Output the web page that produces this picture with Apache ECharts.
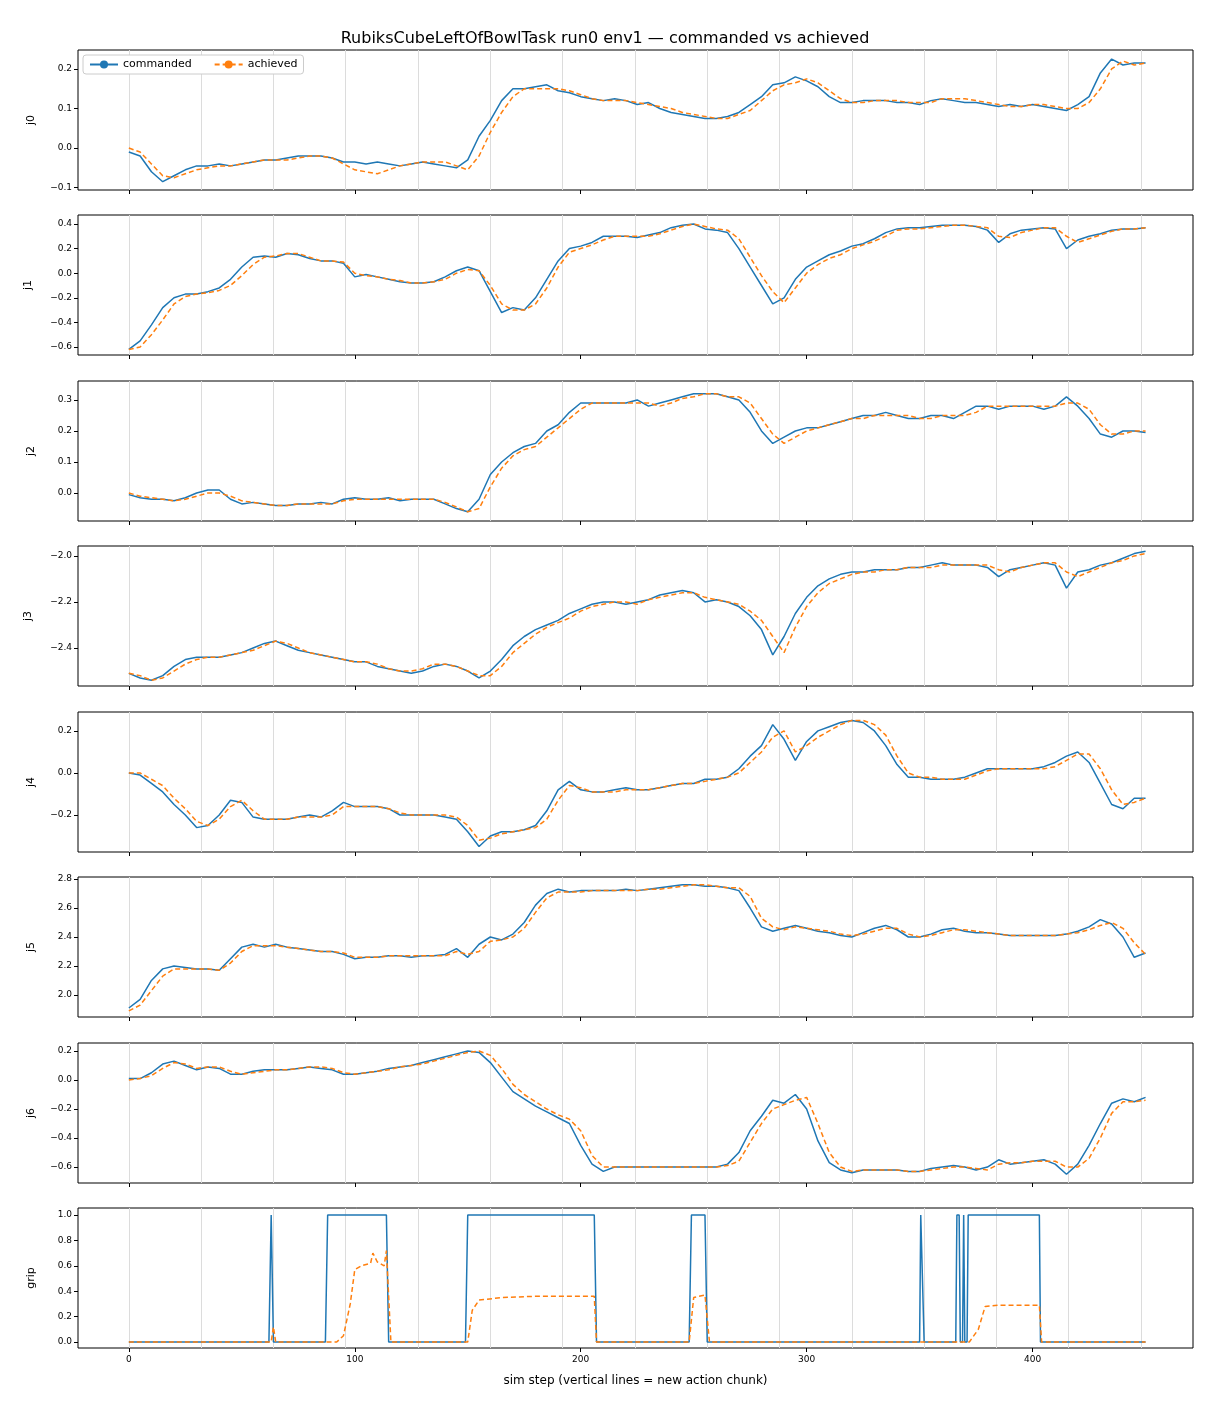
<!DOCTYPE html>
<html><head><meta charset="utf-8">
<script src="https://cdn.jsdelivr.net/npm/echarts@6/dist/echarts.min.js"></script>
<style>html,body{margin:0;padding:0;background:#fff}#c{width:1210px;height:1408px}</style>
</head><body><div id="c"></div>
<script>
const steps = Array.from({length:91},(_,i)=>i*5);
const chunkStarts = [0,32,64,96,128,160,192,224,256,288,320,352,384,416,448];
const j0_cmd=[-0.01,-0.02,-0.06,-0.085,-0.07,-0.055,-0.045,-0.045,-0.04,-0.045,-0.04,-0.035,-0.03,-0.03,-0.025,-0.02,-0.02,-0.02,-0.025,-0.035,-0.035,-0.04,-0.035,-0.04,-0.045,-0.04,-0.035,-0.04,-0.045,-0.05,-0.03,0.03,0.07,0.12,0.15,0.15,0.155,0.16,0.145,0.14,0.13,0.125,0.12,0.125,0.12,0.11,0.115,0.1,0.09,0.085,0.08,0.075,0.075,0.08,0.09,0.11,0.13,0.16,0.165,0.18,0.17,0.155,0.13,0.115,0.115,0.12,0.12,0.12,0.115,0.115,0.11,0.12,0.125,0.12,0.115,0.115,0.11,0.105,0.11,0.105,0.11,0.105,0.1,0.095,0.11,0.13,0.19,0.225,0.21,0.215,0.215];
const j0_ach=[0.0,-0.01,-0.04,-0.07,-0.075,-0.065,-0.055,-0.05,-0.045,-0.045,-0.04,-0.035,-0.03,-0.03,-0.03,-0.025,-0.02,-0.02,-0.025,-0.04,-0.055,-0.06,-0.065,-0.055,-0.045,-0.04,-0.035,-0.035,-0.035,-0.045,-0.055,-0.02,0.04,0.09,0.13,0.15,0.15,0.15,0.15,0.145,0.135,0.125,0.12,0.12,0.12,0.115,0.11,0.105,0.1,0.09,0.085,0.08,0.075,0.075,0.085,0.095,0.12,0.145,0.16,0.165,0.175,0.165,0.145,0.125,0.115,0.115,0.12,0.12,0.12,0.115,0.115,0.115,0.125,0.125,0.125,0.12,0.115,0.11,0.105,0.105,0.11,0.11,0.105,0.1,0.1,0.115,0.15,0.2,0.22,0.21,0.215];
const j1_cmd=[-0.62,-0.55,-0.42,-0.28,-0.2,-0.17,-0.17,-0.15,-0.12,-0.05,0.05,0.13,0.14,0.13,0.16,0.15,0.12,0.1,0.1,0.08,-0.03,-0.01,-0.03,-0.05,-0.07,-0.08,-0.08,-0.07,-0.03,0.02,0.05,0.02,-0.15,-0.32,-0.28,-0.3,-0.2,-0.05,0.1,0.2,0.22,0.25,0.3,0.3,0.3,0.29,0.31,0.33,0.37,0.39,0.4,0.36,0.35,0.33,0.2,0.05,-0.1,-0.25,-0.2,-0.05,0.05,0.1,0.15,0.18,0.22,0.24,0.28,0.33,0.36,0.37,0.37,0.38,0.39,0.39,0.39,0.38,0.35,0.25,0.32,0.35,0.36,0.37,0.36,0.2,0.27,0.3,0.32,0.35,0.36,0.36,0.37];
const j1_ach=[-0.62,-0.6,-0.5,-0.38,-0.25,-0.19,-0.17,-0.16,-0.14,-0.1,-0.02,0.07,0.13,0.14,0.16,0.16,0.13,0.1,0.1,0.09,0.0,-0.02,-0.03,-0.05,-0.06,-0.08,-0.08,-0.07,-0.05,0.0,0.03,0.02,-0.1,-0.25,-0.3,-0.3,-0.25,-0.12,0.05,0.17,0.2,0.23,0.27,0.3,0.3,0.3,0.3,0.32,0.35,0.38,0.4,0.38,0.36,0.35,0.28,0.13,-0.02,-0.15,-0.24,-0.12,0.0,0.07,0.12,0.15,0.2,0.23,0.26,0.3,0.35,0.36,0.36,0.37,0.38,0.39,0.39,0.38,0.37,0.3,0.29,0.33,0.35,0.37,0.37,0.3,0.25,0.28,0.31,0.34,0.36,0.36,0.37];
const j2_cmd=[-0.005,-0.015,-0.02,-0.02,-0.025,-0.015,0.0,0.01,0.01,-0.02,-0.035,-0.03,-0.035,-0.04,-0.04,-0.035,-0.035,-0.03,-0.035,-0.02,-0.015,-0.02,-0.02,-0.015,-0.025,-0.02,-0.02,-0.02,-0.035,-0.05,-0.06,-0.02,0.06,0.1,0.13,0.15,0.16,0.2,0.22,0.26,0.29,0.29,0.29,0.29,0.29,0.3,0.28,0.29,0.3,0.31,0.32,0.32,0.32,0.31,0.3,0.26,0.2,0.16,0.18,0.2,0.21,0.21,0.22,0.23,0.24,0.25,0.25,0.26,0.25,0.24,0.24,0.25,0.25,0.24,0.26,0.28,0.28,0.27,0.28,0.28,0.28,0.27,0.28,0.31,0.28,0.24,0.19,0.18,0.2,0.2,0.195];
const j2_ach=[0.0,-0.01,-0.015,-0.02,-0.025,-0.02,-0.01,0.0,0.0,-0.01,-0.025,-0.03,-0.035,-0.04,-0.04,-0.035,-0.035,-0.035,-0.035,-0.025,-0.02,-0.02,-0.02,-0.02,-0.02,-0.02,-0.02,-0.02,-0.03,-0.045,-0.06,-0.05,0.02,0.08,0.12,0.14,0.15,0.18,0.21,0.24,0.27,0.29,0.29,0.29,0.29,0.29,0.29,0.28,0.29,0.305,0.31,0.32,0.32,0.31,0.31,0.29,0.24,0.19,0.16,0.18,0.2,0.21,0.22,0.23,0.24,0.24,0.25,0.25,0.25,0.25,0.24,0.24,0.25,0.25,0.25,0.26,0.28,0.28,0.28,0.28,0.28,0.28,0.28,0.29,0.29,0.27,0.22,0.19,0.19,0.2,0.2];
const j3_cmd=[-2.51,-2.53,-2.54,-2.52,-2.48,-2.45,-2.44,-2.44,-2.44,-2.43,-2.42,-2.4,-2.38,-2.37,-2.39,-2.41,-2.42,-2.43,-2.44,-2.45,-2.46,-2.46,-2.48,-2.49,-2.5,-2.51,-2.5,-2.48,-2.47,-2.48,-2.5,-2.53,-2.5,-2.45,-2.39,-2.35,-2.32,-2.3,-2.28,-2.25,-2.23,-2.21,-2.2,-2.2,-2.21,-2.2,-2.19,-2.17,-2.16,-2.15,-2.16,-2.2,-2.19,-2.2,-2.22,-2.26,-2.32,-2.43,-2.35,-2.25,-2.18,-2.13,-2.1,-2.08,-2.07,-2.07,-2.06,-2.06,-2.06,-2.05,-2.05,-2.04,-2.03,-2.04,-2.04,-2.04,-2.05,-2.09,-2.06,-2.05,-2.04,-2.03,-2.04,-2.14,-2.07,-2.06,-2.04,-2.03,-2.01,-1.99,-1.98];
const j3_ach=[-2.51,-2.52,-2.54,-2.53,-2.5,-2.47,-2.45,-2.44,-2.44,-2.43,-2.42,-2.41,-2.39,-2.37,-2.38,-2.4,-2.42,-2.43,-2.44,-2.45,-2.46,-2.46,-2.47,-2.49,-2.5,-2.5,-2.49,-2.47,-2.47,-2.48,-2.5,-2.52,-2.52,-2.48,-2.42,-2.38,-2.34,-2.31,-2.29,-2.27,-2.24,-2.22,-2.21,-2.2,-2.2,-2.21,-2.19,-2.18,-2.17,-2.16,-2.16,-2.18,-2.19,-2.2,-2.21,-2.24,-2.28,-2.35,-2.42,-2.31,-2.22,-2.16,-2.12,-2.1,-2.08,-2.07,-2.07,-2.06,-2.06,-2.05,-2.05,-2.05,-2.04,-2.04,-2.04,-2.04,-2.04,-2.06,-2.07,-2.05,-2.04,-2.03,-2.03,-2.07,-2.09,-2.07,-2.05,-2.03,-2.02,-2.0,-1.99];
const j4_cmd=[0.0,-0.01,-0.05,-0.09,-0.15,-0.2,-0.26,-0.25,-0.2,-0.13,-0.14,-0.21,-0.22,-0.22,-0.22,-0.21,-0.2,-0.21,-0.18,-0.14,-0.16,-0.16,-0.16,-0.17,-0.2,-0.2,-0.2,-0.2,-0.21,-0.22,-0.28,-0.35,-0.3,-0.28,-0.28,-0.27,-0.25,-0.18,-0.08,-0.04,-0.08,-0.09,-0.09,-0.08,-0.07,-0.08,-0.08,-0.07,-0.06,-0.05,-0.05,-0.03,-0.03,-0.02,0.02,0.08,0.13,0.23,0.16,0.06,0.15,0.2,0.22,0.24,0.25,0.24,0.2,0.13,0.04,-0.02,-0.02,-0.03,-0.03,-0.03,-0.02,0.0,0.02,0.02,0.02,0.02,0.02,0.03,0.05,0.08,0.1,0.05,-0.05,-0.15,-0.17,-0.12,-0.12];
const j4_ach=[0.0,0.0,-0.03,-0.06,-0.12,-0.17,-0.23,-0.25,-0.22,-0.16,-0.13,-0.18,-0.22,-0.22,-0.22,-0.21,-0.21,-0.21,-0.2,-0.16,-0.16,-0.16,-0.16,-0.17,-0.19,-0.2,-0.2,-0.2,-0.2,-0.21,-0.25,-0.32,-0.31,-0.29,-0.28,-0.27,-0.26,-0.22,-0.13,-0.06,-0.07,-0.09,-0.09,-0.09,-0.08,-0.08,-0.08,-0.07,-0.06,-0.05,-0.05,-0.04,-0.03,-0.02,0.0,0.05,0.1,0.17,0.2,0.1,0.13,0.17,0.2,0.23,0.25,0.25,0.23,0.18,0.08,0.0,-0.02,-0.02,-0.03,-0.03,-0.03,-0.01,0.01,0.02,0.02,0.02,0.02,0.02,0.03,0.06,0.09,0.09,0.02,-0.08,-0.15,-0.14,-0.12];
const j5_cmd=[1.91,1.97,2.1,2.18,2.2,2.19,2.18,2.18,2.17,2.25,2.33,2.35,2.33,2.35,2.33,2.32,2.31,2.3,2.3,2.28,2.25,2.26,2.26,2.27,2.27,2.26,2.27,2.27,2.28,2.32,2.26,2.35,2.4,2.38,2.42,2.5,2.62,2.7,2.73,2.71,2.72,2.72,2.72,2.72,2.73,2.72,2.73,2.74,2.75,2.76,2.76,2.75,2.75,2.74,2.72,2.6,2.47,2.44,2.46,2.48,2.46,2.44,2.43,2.41,2.4,2.43,2.46,2.48,2.45,2.4,2.4,2.42,2.45,2.46,2.44,2.43,2.43,2.42,2.41,2.41,2.41,2.41,2.41,2.42,2.44,2.47,2.52,2.49,2.4,2.26,2.29];
const j5_ach=[1.89,1.93,2.03,2.13,2.18,2.18,2.18,2.18,2.17,2.22,2.3,2.34,2.34,2.34,2.33,2.32,2.31,2.3,2.3,2.29,2.26,2.26,2.26,2.27,2.27,2.27,2.27,2.27,2.27,2.3,2.28,2.3,2.37,2.38,2.4,2.46,2.57,2.67,2.71,2.71,2.71,2.72,2.72,2.72,2.72,2.72,2.73,2.73,2.74,2.75,2.76,2.76,2.75,2.74,2.74,2.68,2.53,2.47,2.45,2.47,2.46,2.45,2.44,2.42,2.41,2.42,2.44,2.46,2.46,2.42,2.4,2.41,2.43,2.45,2.45,2.44,2.43,2.42,2.41,2.41,2.41,2.41,2.41,2.42,2.43,2.45,2.48,2.5,2.46,2.36,2.28];
const j6_cmd=[0.01,0.01,0.05,0.11,0.13,0.1,0.07,0.09,0.08,0.04,0.04,0.06,0.07,0.07,0.07,0.08,0.09,0.08,0.07,0.04,0.04,0.05,0.06,0.08,0.09,0.1,0.12,0.14,0.16,0.18,0.2,0.19,0.12,0.02,-0.08,-0.13,-0.18,-0.22,-0.26,-0.3,-0.45,-0.58,-0.63,-0.6,-0.6,-0.6,-0.6,-0.6,-0.6,-0.6,-0.6,-0.6,-0.6,-0.58,-0.5,-0.35,-0.25,-0.14,-0.16,-0.1,-0.2,-0.42,-0.57,-0.62,-0.64,-0.62,-0.62,-0.62,-0.62,-0.63,-0.63,-0.61,-0.6,-0.59,-0.6,-0.62,-0.6,-0.55,-0.58,-0.57,-0.56,-0.55,-0.58,-0.65,-0.58,-0.45,-0.3,-0.16,-0.13,-0.15,-0.12];
const j6_ach=[0.0,0.01,0.03,0.08,0.12,0.11,0.08,0.09,0.09,0.06,0.04,0.05,0.06,0.07,0.07,0.08,0.09,0.09,0.08,0.05,0.04,0.05,0.06,0.07,0.09,0.1,0.11,0.13,0.15,0.17,0.19,0.2,0.17,0.08,-0.03,-0.1,-0.15,-0.2,-0.24,-0.27,-0.35,-0.52,-0.6,-0.6,-0.6,-0.6,-0.6,-0.6,-0.6,-0.6,-0.6,-0.6,-0.6,-0.59,-0.56,-0.43,-0.3,-0.2,-0.17,-0.14,-0.12,-0.3,-0.5,-0.6,-0.63,-0.62,-0.62,-0.62,-0.62,-0.63,-0.63,-0.62,-0.61,-0.6,-0.6,-0.61,-0.62,-0.58,-0.57,-0.57,-0.56,-0.56,-0.56,-0.6,-0.6,-0.54,-0.4,-0.23,-0.15,-0.15,-0.14];
const grip_cmd=[[0,0],[62,0],[63,1],[64,0],[87,0],[88,1],[114,1],[115,0],[149,0],[150,1],[206,1],[207,0],[248,0],[249,1],[255,1],[256,0],[350,0],[350.5,1],[351,1],[352,0],[366,0],[366.5,1],[367.5,1],[368,0],[369,0],[369.5,1],[370,0],[371,0],[371.5,1],[403,1],[403.5,0],[450,0]];
const grip_ach=[[0,0],[63,0],[64,0.12],[65,0],[92,0],[95,0.05],[98,0.3],[100,0.57],[103,0.6],[107,0.62],[108,0.7],[110,0.63],[113,0.6],[114,0.72],[116,0],[150,0],[152,0.25],[155,0.33],[165,0.35],[180,0.36],[206,0.36],[207,0],[248,0],[250,0.35],[255,0.37],[257,0],[372,0],[376,0.1],[379,0.28],[385,0.29],[403,0.29],[404,0],[450,0]];

const panels=[
 {name:'j0',cmd:j0_cmd,ach:j0_ach,min:-0.106,max:0.248,ticks:[-0.1,0.0,0.1,0.2]},
 {name:'j1',cmd:j1_cmd,ach:j1_ach,min:-0.665,max:0.473,ticks:[-0.6,-0.4,-0.2,0.0,0.2,0.4]},
 {name:'j2',cmd:j2_cmd,ach:j2_ach,min:-0.09,max:0.361,ticks:[0.0,0.1,0.2,0.3]},
 {name:'j3',cmd:j3_cmd,ach:j3_ach,min:-2.565,max:-1.957,ticks:[-2.4,-2.2,-2.0]},
 {name:'j4',cmd:j4_cmd,ach:j4_ach,min:-0.376,max:0.29,ticks:[-0.2,0.0,0.2]},
 {name:'j5',cmd:j5_cmd,ach:j5_ach,min:1.848,max:2.814,ticks:[2.0,2.2,2.4,2.6,2.8]},
 {name:'j6',cmd:j6_cmd,ach:j6_ach,min:-0.71,max:0.255,ticks:[-0.6,-0.4,-0.2,0.0,0.2]},
 {name:'grip',cmd:grip_cmd,ach:grip_ach,min:-0.047,max:1.055,ticks:[0,0.2,0.4,0.6,0.8,1.0]}
];
const tops=[50,215,381,546,712,877,1043,1208];
const xticks=[0,100,200,300,400];
const grid=[],xAxis=[],yAxis=[],series=[];
const fmt=v=>{const s=v.toFixed(1);return s.startsWith('-')?'\u2212'+s.slice(1):s;};
const FF='DejaVu Sans';
panels.forEach((p,i)=>{
  grid.push({left:78,right:17,top:tops[i],height:140,show:true,borderColor:'#000',borderWidth:1,backgroundColor:'transparent'});
  const last=i===panels.length-1;
  xAxis.push({type:'value',gridIndex:i,min:-22.5,max:471,
    axisLine:{show:false,onZero:false},splitLine:{show:false},
    axisTick:{show:true,length:4,lineStyle:{color:'#000'},customValues:xticks},
    axisLabel:{show:last,fontSize:9,color:'#000',customValues:xticks,margin:7,fontFamily:FF},
    name:last?'sim step (vertical lines = new action chunk)':'',nameLocation:'middle',nameGap:27,
    nameTextStyle:{fontSize:12,color:'#000',fontFamily:FF}});
  yAxis.push({type:'value',gridIndex:i,min:p.min,max:p.max,
    axisLine:{show:false,onZero:false},splitLine:{show:false},
    axisTick:{show:true,length:4,lineStyle:{color:'#000'},customValues:p.ticks},
    axisLabel:{fontSize:9,color:'#000',customValues:p.ticks,formatter:fmt,margin:6,fontFamily:FF},
    name:p.name,nameLocation:'middle',nameGap:p.name==='j3'||p.name==='j1'?44:41,
    nameTextStyle:{fontSize:11,color:'#000',fontFamily:FF}});
  const isGrip=p.name==='grip';
  const cmdData=isGrip?p.cmd:steps.map((s,k)=>[s,p.cmd[k]]);
  const achData=isGrip?p.ach:steps.map((s,k)=>[s,p.ach[k]]);
  series.push({name:'commanded',type:'line',xAxisIndex:i,yAxisIndex:i,data:cmdData,symbol:'none',
    lineStyle:{color:'#1f77b4',width:1.5},itemStyle:{color:'#1f77b4'},z:3,
    markLine:{silent:true,symbol:'none',label:{show:false},lineStyle:{color:'#dcdcdc',width:1,type:'solid'},
      data:chunkStarts.map(c=>({xAxis:c})),z:1}});
  series.push({name:'achieved',type:'line',xAxisIndex:i,yAxisIndex:i,data:achData,symbol:'none',
    lineStyle:{color:'#ff7f0e',width:1.5,type:[5,3]},itemStyle:{color:'#ff7f0e'},z:4});
});
const chart=echarts.init(document.getElementById('c'));
chart.setOption({animation:false,backgroundColor:'#fff',textStyle:{fontFamily:FF},
  title:{text:'RubiksCubeLeftOfBowlTask run0 env1 \u2014 commanded vs achieved',left:'center',top:26,
    textStyle:{fontSize:16,fontWeight:'normal',color:'#000',fontFamily:FF}},
  legend:{left:83,top:55,orient:'horizontal',itemWidth:28,itemHeight:10,itemGap:22,
    borderColor:'#ccc',borderWidth:1,borderRadius:3,padding:[4,6],backgroundColor:'#fff',
    textStyle:{fontSize:11,color:'#000',fontFamily:FF},data:['commanded','achieved']},
  grid,xAxis,yAxis,series});
</script></body></html>
